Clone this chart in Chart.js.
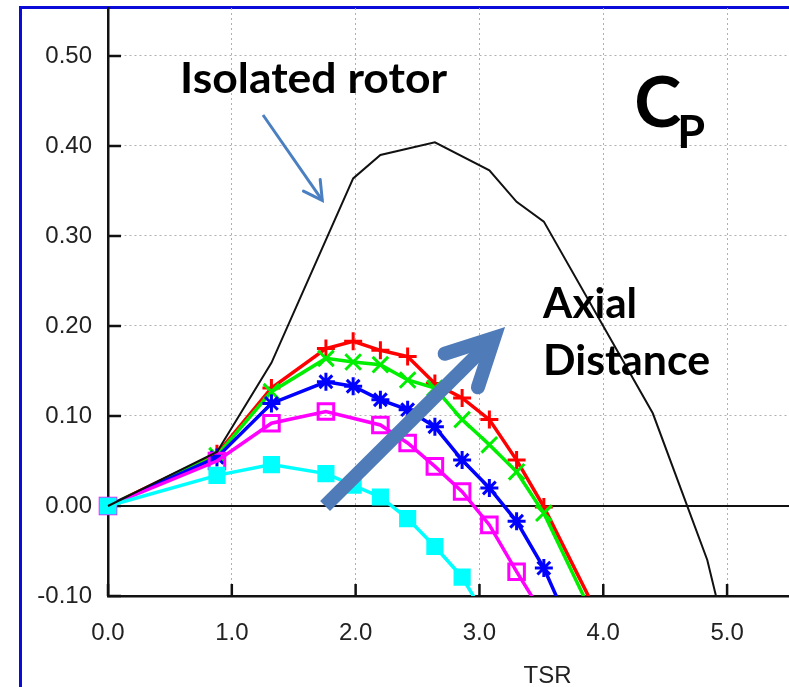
<!DOCTYPE html>
<html lang="en">
<head>
<meta charset="UTF-8">
<title>Cp vs TSR</title>
<script src="https://cdn.jsdelivr.net/npm/chart.js"></script>
<style>
    body { margin: 0; background: #fff; overflow: hidden; }
    .frame {
        position: absolute; left: 19px; top: 6px; width: 820px; height: 720px;
        border-left: 3px solid #0b0bd8; border-top: 3px solid #0b0bd8;
    }
    canvas { position: absolute; left: 0; top: 0; }
</style>
</head>
<body>
<div class="frame"></div>
<canvas id="cpChart" width="789" height="687"></canvas>
<script>
// axis ticks
const xTicks = [0, 1, 2, 3, 4, 5];
const yTicks = [-0.1, 0, 0.1, 0.2, 0.3, 0.4, 0.5];

// isolated rotor (black, no markers)
const isoTsr = [0, 0.88, 1.32, 1.98, 2.2, 2.64, 3.08, 3.3, 3.52, 4.4, 4.84, 5.06];
const isoCp  = [0, 0.06, 0.159, 0.364, 0.39, 0.404, 0.373, 0.338, 0.316, 0.103, -0.06, -0.185];

// rotors at increasing axial distance
const redTsr = [0, 0.88, 1.32, 1.76, 1.98, 2.2, 2.42, 2.64, 2.86, 3.08, 3.3, 3.52, 3.96];
const redCp  = [0, 0.058, 0.131, 0.175, 0.183, 0.173, 0.166, 0.136, 0.120, 0.096, 0.051, -0.001, -0.122];

const greenTsr = [0, 0.88, 1.32, 1.76, 1.98, 2.2, 2.42, 2.64, 2.86, 3.08, 3.3, 3.52, 3.96];
const greenCp  = [0, 0.056, 0.127, 0.164, 0.160, 0.157, 0.140, 0.131, 0.096, 0.068, 0.038, -0.008, -0.134];

const blueTsr = [0, 0.88, 1.32, 1.76, 1.98, 2.2, 2.42, 2.64, 2.86, 3.08, 3.3, 3.52, 3.74];
const blueCp  = [0, 0.054, 0.114, 0.138, 0.133, 0.118, 0.107, 0.088, 0.051, 0.020, -0.017, -0.069, -0.137];

const magTsr = [0, 0.88, 1.32, 1.76, 2.2, 2.42, 2.64, 2.86, 3.08, 3.3, 3.52];
const magCp  = [0, 0.050, 0.092, 0.105, 0.090, 0.070, 0.044, 0.016, -0.021, -0.073, -0.122];

const cyanTsr = [0, 0.88, 1.32, 1.76, 1.98, 2.2, 2.42, 2.64, 2.86, 3.08];
const cyanCp  = [0, 0.034, 0.046, 0.036, 0.023, 0.010, -0.014, -0.045, -0.079, -0.13];

const pts = (xs, ys) => xs.map((x, i) => ({ x: x, y: ys[i] }));

function series(xs, ys, color, style, radius, fill) {
    return {
        data: pts(xs, ys),
        borderColor: color,
        borderWidth: 3.5,
        pointStyle: style,
        pointRadius: radius,
        pointBorderColor: color,
        pointBackgroundColor: fill,
        pointBorderWidth: 3,
        clip: { left: 20, top: 10, right: 0, bottom: 0 }
    };
}

const datasets = [
    {
        data: pts(isoTsr, isoCp),
        borderColor: '#111',
        borderWidth: 2,
        pointRadius: 0,
        clip: { left: 20, top: 10, right: 0, bottom: 0 }
    },
    series(cyanTsr, cyanCp, '#00ffff', 'rect', 10, '#00ffff'),
    series(magTsr, magCp, '#ff00ff', 'rect', 11, 'rgba(0,0,0,0)'),
    series(blueTsr, blueCp, '#0000ff', 'star', 9, '#0000ff'),
    series(greenTsr, greenCp, '#00ee00', 'crossRot', 11, '#00ee00'),
    series(redTsr, redCp, '#ff0000', 'cross', 9, '#ff0000')
];

function arrow(ctx, x1, y1, x2, y2, width, head, spread, color, cap) {
    const ang = Math.atan2(y2 - y1, x2 - x1);
    // back the path off so the mitred point lands on the tip
    const back = (width / 2) / Math.sin(spread);
    const tx = x2 - back * Math.cos(ang), ty = y2 - back * Math.sin(ang);
    ctx.save();
    ctx.strokeStyle = color;
    ctx.lineWidth = width;
    ctx.lineCap = 'butt';
    ctx.beginPath();
    ctx.moveTo(x1, y1);
    ctx.lineTo(tx, ty);
    ctx.stroke();
    ctx.lineCap = cap;
    ctx.lineJoin = 'miter';
    ctx.beginPath();
    ctx.moveTo(tx - head * Math.cos(ang - spread), ty - head * Math.sin(ang - spread));
    ctx.lineTo(tx, ty);
    ctx.lineTo(tx - head * Math.cos(ang + spread), ty - head * Math.sin(ang + spread));
    ctx.stroke();
    ctx.restore();
}

function fitText(ctx, str, px, py, width, font) {
    ctx.font = font;
    const w = ctx.measureText(str).width;
    ctx.save();
    ctx.translate(px, py);
    ctx.scale(width / w, 1);
    ctx.fillText(str, 0, 0);
    ctx.restore();
}

const decor = {
    id: 'decor',
    beforeDatasetsDraw(chart) {
        const { ctx, chartArea: a, scales: { x, y } } = chart;
        ctx.save();
        ctx.strokeStyle = '#111';
        ctx.lineWidth = 2;
        const y0 = y.getPixelForValue(0);
        ctx.beginPath();
        ctx.moveTo(a.left, y0);
        ctx.lineTo(a.right, y0);
        ctx.stroke();
        // tick marks point into the plot
        ctx.lineWidth = 2.5;
        ctx.beginPath();
        yTicks.forEach(v => {
            const py = y.getPixelForValue(v);
            ctx.moveTo(a.left, py);
            ctx.lineTo(a.left + 13, py);
        });
        xTicks.forEach(v => {
            const px = x.getPixelForValue(v);
            ctx.moveTo(px, a.bottom);
            ctx.lineTo(px, a.bottom - 12);
        });
        ctx.stroke();
        ctx.restore();
    },
    afterDraw(chart) {
        const { ctx, chartArea: a, scales: { x, y } } = chart;
        const X = v => x.getPixelForValue(v), Y = v => y.getPixelForValue(v);
        ctx.save();
        ctx.fillStyle = '#222';
        ctx.font = '24px "Liberation Sans", Arial, sans-serif';
        ctx.textAlign = 'center';
        ctx.textBaseline = 'middle';
        ctx.fillText('TSR', X(3.55), a.bottom + 80);

        ctx.fillStyle = '#000';
        ctx.textAlign = 'left';
        ctx.textBaseline = 'alphabetic';
        const bold = '700 42px Lato, "Open Sans", sans-serif';
        fitText(ctx, 'Isolated rotor', X(0.582), Y(0.4586), 267, bold);
        fitText(ctx, 'Axial', X(3.514), Y(0.2086), 94, bold);
        fitText(ctx, 'Distance', X(3.514), Y(0.1456), 167, bold);
        ctx.font = '700 71px Lato, sans-serif';
        ctx.fillText('C', X(4.25), Y(0.4214));
        ctx.font = '700 45px Lato, sans-serif';
        ctx.fillText('P', X(4.598), Y(0.3974));
        ctx.restore();

        arrow(ctx, X(1.252), Y(0.4344), X(1.745), Y(0.3367), 3, 21, 29 * Math.PI / 180, '#4a7fc1', 'round');
        arrow(ctx, X(1.753), Y(0.0), X(3.207), Y(0.1989), 14, 52, 27 * Math.PI / 180, '#4f7cb8', 'round');
    }
};

new Chart(document.getElementById('cpChart'), {
    type: 'line',
    data: { datasets: datasets },
    options: {
        responsive: false,
        animation: false,
        events: [],
        layout: { autoPadding: false, padding: { top: 8, left: 0, right: 0, bottom: 0 } },
        plugins: { legend: { display: false }, tooltip: { enabled: false } },
        scales: {
            x: {
                type: 'linear',
                min: 0,
                max: 5.5,
                afterBuildTicks: s => { s.ticks = xTicks.map(v => ({ value: v })); },
                afterFit: s => { s.height = 91; s.paddingLeft = 0; s.paddingRight = 0; },
                ticks: {
                    callback: v => v.toFixed(1),
                    color: '#222',
                    font: { size: 24, family: '"Liberation Sans", Arial, sans-serif' },
                    padding: 23,
                    maxRotation: 0,
                    autoSkip: false
                },
                grid: { color: '#b0b0b0', lineWidth: 1, drawTicks: false },
                border: { color: '#111', width: 2.5, dash: [2, 3] }
            },
            y: {
                min: -0.1,
                max: 0.5533,
                afterBuildTicks: s => { s.ticks = yTicks.map(v => ({ value: v })); },
                afterFit: s => { s.width = 108; s.paddingTop = 0; s.paddingBottom = 0; },
                ticks: {
                    callback: v => v.toFixed(2),
                    color: '#222',
                    font: { size: 24, family: '"Liberation Sans", Arial, sans-serif' },
                    padding: 16,
                    autoSkip: false
                },
                grid: { color: '#b0b0b0', lineWidth: 1, drawTicks: false },
                border: { color: '#111', width: 2.5, dash: [2, 3] }
            }
        }
    },
    plugins: [decor]
});
</script>
</body>
</html>
